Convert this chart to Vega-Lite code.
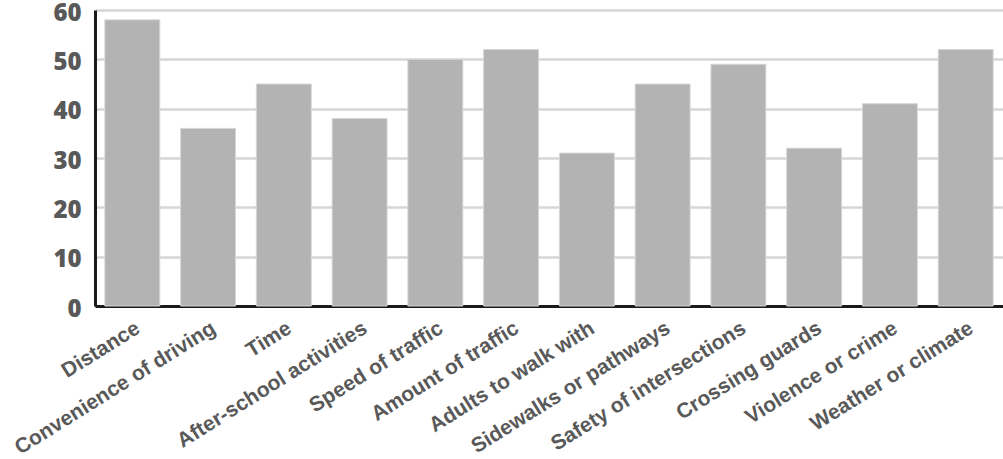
{
  "$schema": "https://vega.github.io/schema/vega-lite/v6.json",
  "autosize": "none",
  "padding": {"left": 95, "top": 10, "right": 0, "bottom": 153},
  "width": 908,
  "height": 296,
  "background": "white",
  "config": {"view": {"stroke": null}},
  "data": {"values": [
    {"factor": "Distance", "value": 58},
    {"factor": "Convenience of driving", "value": 36},
    {"factor": "Time", "value": 45},
    {"factor": "After-school activities", "value": 38},
    {"factor": "Speed of traffic", "value": 50},
    {"factor": "Amount of traffic", "value": 52},
    {"factor": "Adults to walk with", "value": 31},
    {"factor": "Sidewalks or pathways", "value": 45},
    {"factor": "Safety of intersections", "value": 49},
    {"factor": "Crossing guards", "value": 32},
    {"factor": "Violence or crime", "value": 41},
    {"factor": "Weather or climate", "value": 52}
  ]},
  "mark": {"type": "bar", "color": "#b3b3b3", "stroke": "#d6d6d6", "strokeWidth": 1},
  "encoding": {
    "x": {
      "field": "factor", "type": "nominal", "sort": null,
      "scale": {"paddingInner": 0.275, "paddingOuter": 0.13},
      "axis": {
        "title": null, "labelAngle": -32, "labelFont": "Liberation Sans", "labelFontWeight": "bold",
        "labelFontSize": 21, "labelColor": "#595959", "ticks": false, "labelPadding": 11,
        "domainColor": "#1a1a1a", "domainWidth": 3, "labelOverlap": false, "labelLimit": 400
      }
    },
    "y": {
      "field": "value", "type": "quantitative",
      "scale": {"domain": [0, 60], "nice": false},
      "axis": {
        "title": null, "values": [0, 10, 20, 30, 40, 50, 60], "ticks": false, "labelPadding": 14,
        "labelOffset": 3,
        "labelFont": "Open Sans", "labelFontWeight": 800, "labelFontSize": 24, "labelColor": "#595959",
        "domainColor": "#1a1a1a", "domainWidth": 3, "gridColor": "#d6d6d6", "gridWidth": 2.5
      }
    }
  }
}
